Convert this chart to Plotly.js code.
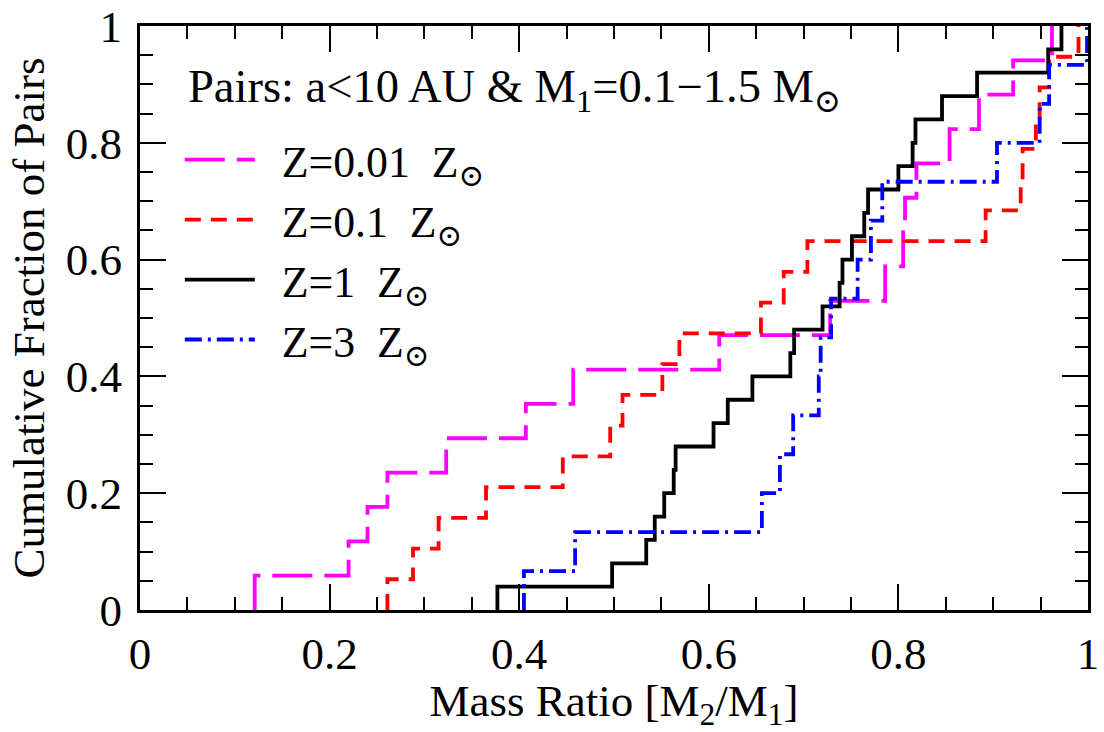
<!DOCTYPE html>
<html>
<head>
<meta charset="utf-8">
<script src="https://cdn.plot.ly/plotly-3.0.1.min.js"></script>
<style>
  html, body { margin: 0; padding: 0; background: #fff; }
  #plot { width: 1104px; height: 732px; }
</style>
</head>
<body>
<div id="plot"></div>
<script>
// Sorted mass ratios q = M2/M1 of the pairs (a < 10 AU, M1 = 0.1-1.5 Msun)
// for each metallicity run.
const qZ001 = [0.121, 0.220, 0.240, 0.261, 0.323, 0.407, 0.457, 0.611, 0.728,
               0.786, 0.805, 0.807, 0.819, 0.854, 0.885, 0.921, 0.962];
const qZ01  = [0.261, 0.288, 0.315, 0.365, 0.446, 0.496, 0.509, 0.551, 0.569,
               0.655, 0.679, 0.704, 0.892, 0.929, 0.931, 0.945, 0.949, 0.959, 0.990];
const qZ1   = [0.377, 0.498, 0.534, 0.543, 0.553, 0.563, 0.565, 0.605, 0.620,
               0.646, 0.686, 0.690, 0.720, 0.738, 0.741, 0.751, 0.764, 0.768,
               0.800, 0.815, 0.818, 0.846, 0.883, 0.958, 0.972];
const qZ3   = [0.405, 0.459, 0.656, 0.675, 0.689, 0.716, 0.718, 0.729, 0.757,
               0.771, 0.783, 0.904, 0.949, 0.959, 0.999];

const seriesNames = [
  '  Z=0.01  Z<sub>⊙</sub>',
  '  Z=0.1  Z<sub>⊙</sub>',
  '  Z=1  Z<sub>⊙</sub>',
  '  Z=3  Z<sub>⊙</sub>'
];
const seriesColors = ['#ff00ff', '#ff0000', '#000000', '#0000ff'];
const seriesDashes = ['40px,12px', '16px,10px', 'solid', '17px,6px,3px,6px'];
const samples = [qZ001, qZ01, qZ1, qZ3];

const headerText = 'Pairs: a&lt;10 AU &amp; M<sub>1</sub>=0.1−1.5 M<sub>⊙</sub>';

// Empirical cumulative distribution: starts at (q1, 0), one step of 1/N per pair.
function cumulative(sample) {
  const xs = [sample[0]];
  const ys = [0];
  sample.forEach((q, i) => {
    xs.push(q);
    ys.push((i + 1) / sample.length);
  });
  return { xs, ys };
}

const serif = 'Liberation Serif, DejaVu Serif, serif';

const traces = samples.map((s, k) => {
  const c = cumulative(s);
  return {
    x: c.xs,
    y: c.ys,
    type: 'scatter',
    mode: 'lines',
    name: seriesNames[k],
    line: { shape: 'hv', color: seriesColors[k], width: 3.8, dash: seriesDashes[k] },
    hoverinfo: 'skip'
  };
});

function axisStyle(titleText, standoff) {
  return {
    range: [0, 1],
    showgrid: false,
    zeroline: false,
    showline: true,
    linecolor: '#000',
    linewidth: 3,
    mirror: 'ticks',
    ticks: 'inside',
    ticklen: 26,
    tickwidth: 2,
    tickcolor: '#000',
    tick0: 0,
    dtick: 0.2,
    minor: { dtick: 0.05, ticks: 'inside', ticklen: 13, tickwidth: 2, tickcolor: '#000' },
    tickfont: { family: serif, size: 45, color: '#000' },
    title: { text: titleText, font: { family: serif, size: 45, color: '#000' }, standoff: standoff },
    fixedrange: true
  };
}

const xaxis = axisStyle('Mass Ratio [M<sub>2</sub>/M<sub>1</sub>]', 0);
xaxis.ticklabelstandoff = 2;
const yaxis = axisStyle('Cumulative Fraction of Pairs', 8);
yaxis.ticklabelstandoff = 6;

const layout = {
  width: 1104,
  height: 732,
  margin: { l: 140, r: 16, t: 26, b: 122 },
  paper_bgcolor: '#fff',
  plot_bgcolor: '#fff',
  xaxis: xaxis,
  yaxis: yaxis,
  showlegend: true,
  legend: {
    x: 0.042,
    y: 0.831,
    xanchor: 'left',
    yanchor: 'top',
    bgcolor: 'rgba(0,0,0,0)',
    borderwidth: 0,
    itemwidth: 70,
    font: { family: serif, size: 43.8, color: '#000' }
  },
  annotations: [{
    xref: 'paper', yref: 'paper',
    x: 0.049, y: 0.944,
    xanchor: 'left', yanchor: 'top',
    showarrow: false,
    text: headerText,
    font: { family: serif, size: 46.5, color: '#000' }
  }]
};

Plotly.newPlot('plot', traces, layout, { staticPlot: true, displayModeBar: false });
</script>
</body>
</html>
